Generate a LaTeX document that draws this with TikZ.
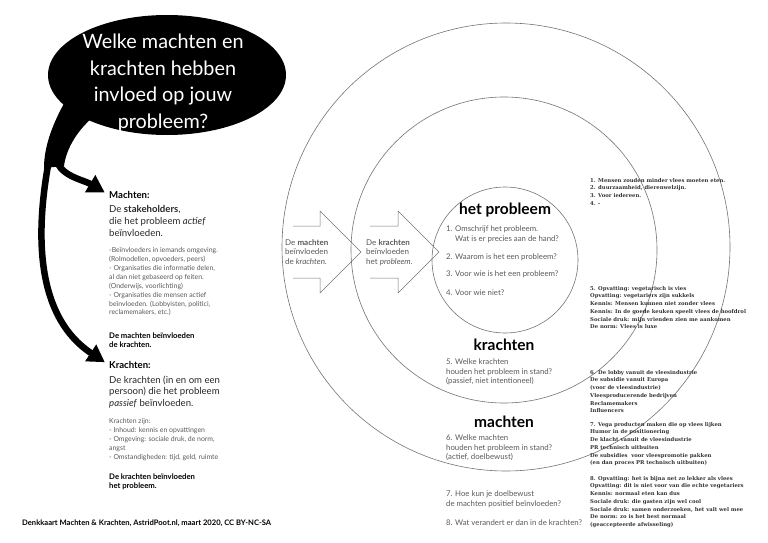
\documentclass[tikz,border=0pt]{standalone}
\usepackage{fontspec}
\setmainfont{Lato}
\newfontfamily\typefont{DejaVu Serif}
\usepackage{tikz}
\usetikzlibrary{shapes.geometric, arrows.meta}
\definecolor{grijs}{gray}{0.35}
\definecolor{lijngrijs}{gray}{0.45}

\begin{document}
\begin{tikzpicture}[x=1pt,y=-1pt,
    bubble/.style={ellipse, fill=black, minimum width=238pt, minimum height=120pt, inner sep=0pt},
    vraagtekst/.style={text=white, align=center, font=\fontsize{19.8}{26.5}\selectfont},
    tak/.style={line width=6.5pt, -{Triangle[length=17pt,width=19pt]}, shorten >=5pt},
    kop/.style={anchor=west, inner sep=0pt, font=\fontsize{9.6}{11.8}\selectfont\bfseries},
    uitleg/.style={anchor=north west, inner sep=0pt, align=left, text=black!85, font=\fontsize{9.6}{11.8}\selectfont},
    klein/.style={anchor=north west, inner sep=0pt, align=left, text=grijs, font=\fontsize{6.9}{8.9}\selectfont},
    slot/.style={anchor=north west, inner sep=0pt, align=left, font=\fontsize{7.7}{9}\selectfont\bfseries},
    titel/.style={inner sep=0pt, font=\fontsize{15.5}{17}\selectfont\bfseries},
    vraag/.style={anchor=north west, inner sep=0pt, align=left, text=grijs, font=\fontsize{7.8}{9.3}\selectfont},
    antw/.style={anchor=north west, inner sep=0pt, align=left, text=black!80, font=\typefont\bfseries\fontsize{5.3}{7.7}\selectfont},
    ring/.style={draw=lijngrijs, line width=0.6pt},
    blokpijl/.style={draw=lijngrijs, line width=0.5pt}]
    \useasboundingbox (0,0) rectangle (768,543);

    % rings
    \draw[ring] (506,247) circle (224);
    \draw[ring] (504,250) circle (153);
    \draw[ring] (505,260) circle (73);

    % question bubble
    \node[bubble] (vraag) at (167,75) {};
    \node[vraagtekst] (vraagtxt) at (163,83) {Welke machten en\\krachten hebben\\invloed op jouw\\probleem?};
    \fill (66,100) .. controls (50,128) and (44,150) .. (44,168)
      -- (64,166) .. controls (66,150) and (76,132) .. (92,118) -- cycle;
    \coordinate (split1) at (57,160);
    \coordinate (split2) at (49,160);

    % left column
    \node[kop] (machtenkop) at (109,195) {Machten:};
    \node[uitleg] (machtenuitleg) at (109,205.5) {De \textbf{stakeholders},\\die het probleem \textit{actief}\\beïnvloeden.};
    \node[klein] (machtenlijst) at (109,247.4) {-Beïnvloeders in iemands omgeving.\\(Rolmodellen, opvoeders, peers)\\- Organisaties die informatie delen,\\al dan niet gebaseerd op feiten.\\(Onderwijs, voorlichting)\\- Organisaties die mensen actief\\beïnvloeden. (Lobbyisten, politici,\\reclamemakers, etc.)};
    \node[slot] (machtenslot) at (109,333) {De machten beïnvloeden\\de krachten.};

    \node[kop] (krachtenkop) at (109,365) {Krachten:};
    \node[uitleg] (krachtenuitleg) at (109,375.5) {De krachten (in en om een\\persoon) die het probleem\\\textit{passief} beïnvloeden.};
    \node[klein] (krachtenlijst) at (109,418.4) {Krachten zijn:\\- Inhoud: kennis en opvattingen\\- Omgeving: sociale druk, de norm,\\angst\\- Omstandigheden: tijd, geld, ruimte};
    \node[slot] (krachtenslot) at (109,474) {De krachten beïnvloeden\\het probleem.};

    \draw[tak] (split1) .. controls (60,176) and (84,180) .. (machtenkop.west);
    \draw[tak] (split2) .. controls (34,240) and (38,318) .. (krachtenkop.west);

    % block arrows
    \draw[blokpijl] (293,226) -- (320,226) -- (320,211) -- (361,252) -- (320,293) -- (320,278) -- (293,278);
    \draw[blokpijl] (370,226) -- (398,226) -- (398,211) -- (439,252) -- (398,293) -- (398,278) -- (370,278);
    \node[klein, font=\fontsize{8}{9.5}\selectfont] (pijltekst1) at (285,239) {De \textbf{machten}\\beïnvloeden\\de \textit{krachten}.};
    \node[klein, font=\fontsize{8}{9.5}\selectfont] (pijltekst2) at (366,239) {De \textbf{krachten}\\beïnvloeden\\het \textit{probleem}.};

    % ring texts
    \node[titel] (probleem) at (505,210) {het probleem};
    \node[vraag] (v1) at (446,226) {1. Omschrijf het probleem.\\\phantom{1. }Wat is er precies aan de hand?};
    \node[vraag] (v2) at (446,254) {2. Waarom is het een probleem?};
    \node[vraag] (v3) at (446,271) {3. Voor wie is het een probleem?};
    \node[vraag] (v4) at (446,290) {4. Voor wie niet?};

    \node[titel] (krachten) at (504,345) {krachten};
    \node[vraag] (v5) at (446,359) {5. Welke krachten\\houden het probleem in stand?\\(passief, niet intentioneel)};

    \node[titel] (machten) at (504,422) {machten};
    \node[vraag] (v6) at (446,435) {6. Welke machten\\houden het probleem in stand?\\(actief, doelbewust)};

    \node[vraag] (v7) at (446,491) {7. Hoe kun je doelbewust\\de machten positief beïnvloeden?};
    \node[vraag] (v8) at (446,520) {8. Wat verandert er dan in de krachten?};

    % answers
    \node[antw] (a1) at (590,178) {1. Mensen zouden minder vlees moeten eten.\\2. duurzaamheid, dierenwelzijn.\\3. Voor iedereen.\\4. -};
    \node[antw] (a5) at (590,286) {5. Opvatting: vegetarisch is vies\\Opvatting: vegetariers zijn sukkels\\Kennis: Mensen kunnen niet zonder vlees\\Kennis: In de goede keuken speelt vlees de hoofdrol\\Sociale druk: mijn vrienden zien me aankomen\\De norm: Vlees is luxe};
    \node[antw] (a6) at (590,370) {6. De lobby vanuit de vleesindustrie\\De subsidie vanuit Europa\\(voor de vleesindustrie)\\Vleesproducerende bedrijven\\Reclamemakers\\Influencers};
    \node[antw] (a7) at (590,422) {7. Vega producten maken die op vlees lijken\\Humor in de positionering\\De klacht vanuit de vleesindustrie\\PR technisch uitbuiten\\De subsidies\ \ voor vleespromotie pakken\\(en dan proces PR technisch uitbuiten)};
    \node[antw] (a8) at (590,476) {8. Opvatting: het is bijna net zo lekker als vlees\\Opvatting: dit is niet voor van die echte vegetariers\\Kennis: normaal eten kan dus\\Sociale druk: die gasten zijn wel cool\\Sociale druk: samen onderzoeken, het valt wel mee\\De norm: zo is het best normaal\\(geaccepteerde afwisseling)};

    \node[anchor=west, inner sep=0pt, font=\fontsize{7.6}{9}\selectfont\bfseries] (bron) at (22,523) {Denkkaart Machten \& Krachten, AstridPoot.nl, maart 2020, CC BY-NC-SA};
\end{tikzpicture}
\end{document}
